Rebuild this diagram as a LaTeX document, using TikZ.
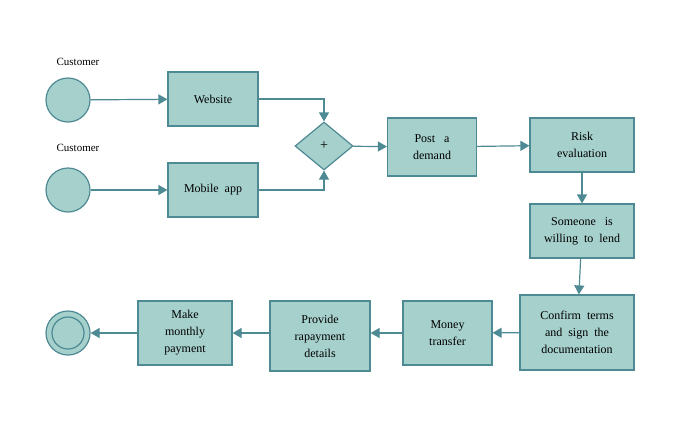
\documentclass[tikz,border=0pt]{standalone}
\usepackage{fontspec}
\setmainfont{Liberation Serif}
\usetikzlibrary{arrows.meta,shapes.geometric}
\definecolor{fillc}{HTML}{A5D0CC}
\definecolor{linec}{HTML}{4E8A94}
\begin{document}
\begin{tikzpicture}[x=1pt,y=-1pt,
  box/.style={draw=linec,fill=fillc,line width=1.2pt,rectangle,align=center,inner sep=1pt,font=\fontsize{12}{17}\selectfont},
  ev/.style={draw=linec,fill=fillc,line width=1.2pt,circle,minimum size=44pt,inner sep=0pt},
  con/.style={draw=linec,line width=1.2pt,-{Triangle[length=9pt,width=10pt]}},
  lab/.style={font=\fontsize{11}{13}\selectfont}]
\useasboundingbox (0,0) rectangle (693,426);
\node[ev] (c1) at (68,100) {};
\node[ev] (c2) at (68,190) {};
\node[lab] (l1) at (78,62) {Customer};
\node[lab] (l2) at (78,148) {Customer};
\node[box,minimum width=90pt,minimum height=54pt] (web) at (213,99) {Website};
\node[box,minimum width=90pt,minimum height=54pt] (mob) at (213,190) {Mobile~~app};
\node[draw=linec,fill=fillc,line width=1.2pt,diamond,minimum width=58pt,minimum height=48pt,inner sep=0pt,font=\fontsize{14}{14}\selectfont] (gw) at (324,146) {+};
\node[box,minimum width=89pt,minimum height=58pt] (post) at (432,147) {Post~~~a\\demand};
\node[box,minimum width=104pt,minimum height=54pt] (risk) at (582,145) {Risk\\evaluation};
\node[box,minimum width=104pt,minimum height=54pt] (some) at (582,231) {Someone~~~is\\willing~~to~~lend};
\node[box,minimum width=114pt,minimum height=75pt] (conf) at (577,332.5) {Confirm~~terms\\and~~sign~~the\\documentation};
\node[box,minimum width=89pt,minimum height=64pt] (money) at (447.5,333) {Money\\transfer};
\node[box,minimum width=100pt,minimum height=70pt] (prov) at (320,336) {Provide\\rapayment\\details};
\node[box,minimum width=94pt,minimum height=64pt] (make) at (185,333) {Make\\monthly\\payment};
\node[ev] (end) at (68,333) {};
\node[draw=linec,line width=1.2pt,circle,minimum size=32pt,inner sep=0pt] (endi) at (68,333) {};
\draw[con] (c1) -- (web);
\draw[con] (c2) -- (mob);
\draw[con] (web.east) -| (gw.north);
\draw[con] (mob.east) -| (gw.south);
\draw[con] (gw) -- (post);
\draw[con] (post) -- (risk);
\draw[con] (risk) -- (some);
\draw[con] (some) -- (conf);
\draw[con] (conf) -- (money);
\draw[con] (money) -- (money -| prov.east);
\draw[con] (prov.west |- make) -- (make);
\draw[con] (make) -- (end);
\end{tikzpicture}
\end{document}
